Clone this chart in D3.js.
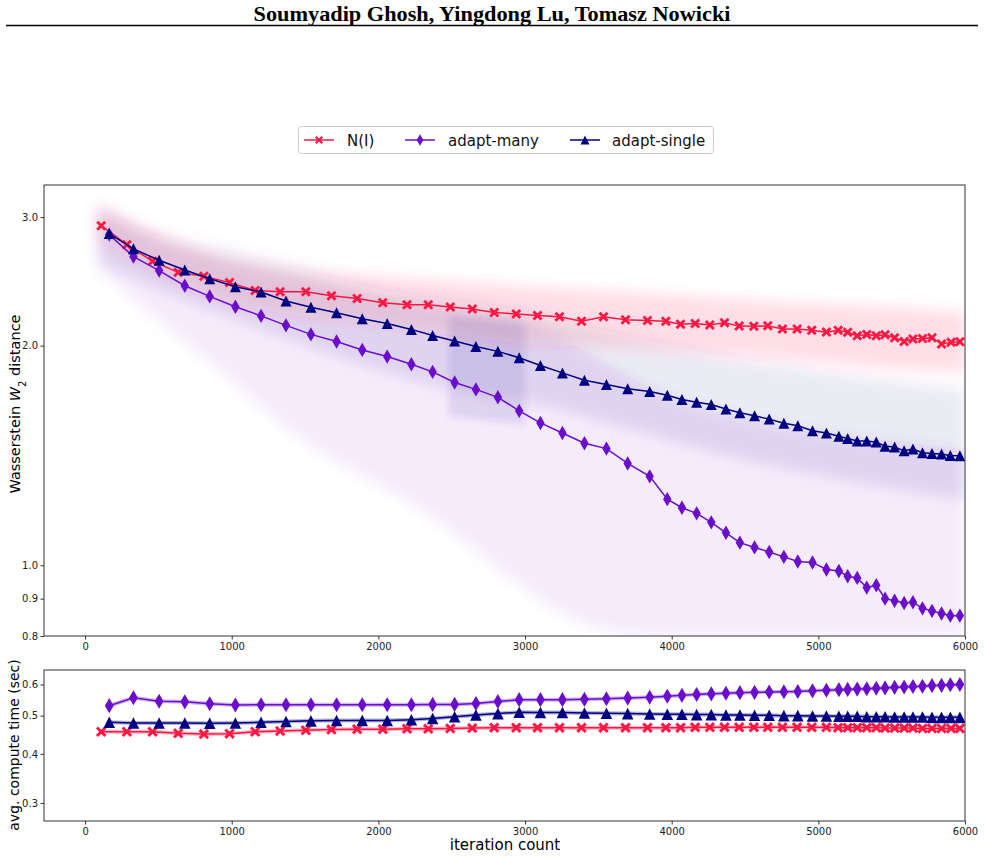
<!DOCTYPE html>
<html><head><meta charset="utf-8">
<script src="https://cdn.jsdelivr.net/npm/d3@7"></script>
<style>body{margin:0;background:#fff}text{font-family:"DejaVu Sans",sans-serif}</style>
</head><body>
<svg id="c" width="984" height="857"></svg>
<script>
// ---------------- data ----------------
const seriesNames = ["N(I)", "adapt-many", "adapt-single"];
const xTicks = [0, 1000, 2000, 3000, 4000, 5000, 6000];
const yTopTicks = [3.0, 2.0, 1.0, 0.9, 0.8];
const yBotTicks = [0.6, 0.5, 0.4, 0.3];

const iterN = [110, 285, 460, 635, 810, 985, 1160, 1330, 1505, 1680, 1855, 2030, 2195, 2340, 2490, 2640, 2790, 2940, 3085, 3235, 3385, 3535, 3685, 3835, 3960, 4060, 4160, 4260, 4360, 4460, 4560, 4655, 4755, 4855, 4955, 5055, 5135, 5200, 5265, 5330, 5395, 5455, 5520, 5585, 5645, 5710, 5775, 5840, 5905, 5965];
const iterAdapt = [165, 330, 505, 680, 850, 1025, 1200, 1370, 1540, 1715, 1890, 2060, 2225, 2370, 2520, 2665, 2815, 2960, 3105, 3255, 3405, 3555, 3700, 3850, 3970, 4070, 4170, 4270, 4370, 4465, 4565, 4665, 4765, 4860, 4960, 5055, 5140, 5200, 5265, 5330, 5395, 5455, 5520, 5585, 5645, 5710, 5775, 5840, 5900, 5965];

const w2N = [2.92, 2.75, 2.61, 2.52, 2.49, 2.44, 2.38, 2.37, 2.37, 2.34, 2.32, 2.29, 2.275, 2.275, 2.26, 2.245, 2.22, 2.21, 2.20, 2.19, 2.16, 2.19, 2.17, 2.165, 2.16, 2.14, 2.145, 2.135, 2.15, 2.127, 2.126, 2.129, 2.108, 2.108, 2.10, 2.087, 2.099, 2.086, 2.064, 2.072, 2.064, 2.07, 2.05, 2.026, 2.042, 2.045, 2.051, 2.01, 2.021, 2.024];
const w2Many = [2.839, 2.648, 2.534, 2.416, 2.336, 2.261, 2.197, 2.132, 2.072, 2.026, 1.973, 1.932, 1.886, 1.841, 1.780, 1.742, 1.699, 1.628, 1.567, 1.518, 1.470, 1.445, 1.379, 1.324, 1.232, 1.199, 1.178, 1.145, 1.108, 1.074, 1.058, 1.043, 1.027, 1.012, 1.009, 0.987, 0.982, 0.966, 0.961, 0.932, 0.939, 0.900, 0.894, 0.888, 0.890, 0.873, 0.866, 0.859, 0.853, 0.853];
const w2Single = [2.848, 2.714, 2.618, 2.539, 2.470, 2.408, 2.369, 2.302, 2.257, 2.218, 2.177, 2.145, 2.105, 2.065, 2.030, 1.995, 1.964, 1.925, 1.878, 1.835, 1.793, 1.769, 1.746, 1.731, 1.710, 1.687, 1.673, 1.661, 1.637, 1.618, 1.603, 1.586, 1.565, 1.553, 1.529, 1.518, 1.503, 1.492, 1.480, 1.480, 1.475, 1.456, 1.452, 1.435, 1.443, 1.426, 1.423, 1.421, 1.414, 1.413];

const timeN = [0.455, 0.455, 0.455, 0.451, 0.449, 0.450, 0.455, 0.457, 0.459, 0.461, 0.462, 0.462, 0.463, 0.463, 0.464, 0.465, 0.466, 0.466, 0.466, 0.466, 0.466, 0.466, 0.466, 0.466, 0.466, 0.466, 0.467, 0.467, 0.467, 0.467, 0.467, 0.467, 0.467, 0.467, 0.467, 0.467, 0.466, 0.466, 0.466, 0.466, 0.466, 0.465, 0.465, 0.465, 0.465, 0.464, 0.464, 0.464, 0.464, 0.464];
const timeMany = [0.530, 0.555, 0.544, 0.542, 0.536, 0.532, 0.533, 0.533, 0.533, 0.533, 0.533, 0.533, 0.533, 0.534, 0.534, 0.537, 0.543, 0.549, 0.549, 0.549, 0.550, 0.552, 0.554, 0.557, 0.560, 0.563, 0.566, 0.568, 0.570, 0.572, 0.573, 0.574, 0.575, 0.576, 0.578, 0.580, 0.582, 0.583, 0.584, 0.585, 0.587, 0.588, 0.590, 0.591, 0.593, 0.594, 0.596, 0.597, 0.599, 0.600];
const timeSingle = [0.481, 0.479, 0.479, 0.479, 0.478, 0.479, 0.481, 0.483, 0.485, 0.486, 0.486, 0.486, 0.488, 0.492, 0.497, 0.502, 0.506, 0.510, 0.509, 0.509, 0.508, 0.507, 0.506, 0.505, 0.504, 0.504, 0.503, 0.503, 0.502, 0.502, 0.501, 0.501, 0.500, 0.500, 0.499, 0.499, 0.498, 0.498, 0.498, 0.497, 0.497, 0.497, 0.496, 0.496, 0.496, 0.496, 0.495, 0.495, 0.495, 0.495];

// faint per-run spread (envelopes)
const cloudIter = [90, 500, 1000, 1500, 2000, 2500, 3000, 3500, 4000, 4500, 5000, 5500, 6000];
const cloudNHi = [3.12, 2.83, 2.62, 2.53, 2.49, 2.45, 2.41, 2.38, 2.35, 2.31, 2.28, 2.26, 2.22];
const cloudNLo = [2.80, 2.50, 2.27, 2.18, 2.14, 2.07, 2.00, 2.00, 1.97, 1.94, 1.90, 1.86, 1.84];
const cloudSingleHi = [3.08, 2.79, 2.70, 2.54, 2.38, 2.31, 2.24, 2.10, 2.01, 1.91, 1.85, 1.79, 1.74];
const cloudSingleLo = [2.60, 2.38, 2.18, 2.00, 1.85, 1.73, 1.68, 1.58, 1.48, 1.39, 1.33, 1.27, 1.23];
const cloudManyHi = [3.10, 2.79, 2.58, 2.46, 2.31, 2.24, 2.17, 1.92, 1.68, 1.58, 1.52, 1.48, 1.44];
const cloudManyLo = [2.55, 2.16, 1.80, 1.45, 1.30, 1.12, 0.92, 0.80, 0.80, 0.80, 0.80, 0.80, 0.80];
const denseIter = [2480, 3000];
const denseHi = [2.2, 2.15];
const denseLo = [1.6, 1.56];

// ---------------- drawing ----------------
const colors = ["#ff1744", "#6a0dcc", "#000080"];
const svg = d3.select("#c");

// title
svg.append("text").attr("x", 492).attr("y", 21).attr("text-anchor", "middle")
  .attr("textLength", 477).attr("lengthAdjust", "spacingAndGlyphs")
  .style("font-family", "'Liberation Serif', serif").style("font-weight", "bold").style("font-size", "21px")
  .text("Soumyadip Ghosh, Yingdong Lu, Tomasz Nowicki");
svg.append("line").attr("x1", 6).attr("x2", 978).attr("y1", 25.5).attr("y2", 25.5)
  .attr("stroke", "#000").attr("stroke-width", 1.3);

const L = 44, R = 965;
const x = d3.scaleLinear().domain([-280, 6000]).range([L, R]);
const yT = d3.scaleLog().domain([0.8, 3.32]).range([636, 185]);
const yB = d3.scaleLog().domain([0.27, 0.653]).range([821, 670]);

const defs = svg.append("defs");
defs.append("clipPath").attr("id", "clipT").append("rect").attr("x", L).attr("y", 185).attr("width", R - L).attr("height", 451);
defs.append("clipPath").attr("id", "clipB").append("rect").attr("x", L).attr("y", 670).attr("width", R - L).attr("height", 151);
defs.append("filter").attr("id", "blur").attr("x", "-10%").attr("y", "-20%").attr("width", "120%").attr("height", "140%")
  .append("feGaussianBlur").attr("stdDeviation", 7);
defs.append("filter").attr("id", "blur2").attr("x", "-10%").attr("y", "-20%").attr("width", "120%").attr("height", "140%")
  .append("feGaussianBlur").attr("stdDeviation", 3);

// marker shapes
function markerPath(kind, s) {
  if (kind === 0) { // filled X
    const a = s / 2, t = s * 0.2;
    const p = [[-a, -a + t], [-a + t, -a], [0, -t], [a - t, -a], [a, -a + t], [t, 0], [a, a - t], [a - t, a], [0, t], [-a + t, a], [-a, a - t], [-t, 0]];
    return "M" + p.map(q => q.join(",")).join("L") + "Z";
  } else if (kind === 1) { // thin diamond
    const h = s * 0.72, w = s * 0.42;
    return `M0,${-h}L${w},0L0,${h}L${-w},0Z`;
  } else { // triangle up
    const a = s * 0.55;
    return `M0,${-a}L${a},${a}L${-a},${a}Z`;
  }
}

const topData = [
  { it: iterN, v: w2N }, { it: iterAdapt, v: w2Many }, { it: iterAdapt, v: w2Single }
];
const botData = [
  { it: iterN, v: timeN }, { it: iterAdapt, v: timeMany }, { it: iterAdapt, v: timeSingle }
];

// clouds
const gT = svg.append("g").attr("clip-path", "url(#clipT)");
const gCloud = gT.append("g").attr("filter", "url(#blur)");
const area = d3.area().x(d => x(d[0])).y0(d => yT(d[1])).y1(d => yT(d[2])).curve(d3.curveBasis);
const clouds = [
  { lo: cloudManyLo, hi: cloudManyHi, c: colors[1], o: 0.075 },
  { lo: cloudSingleLo, hi: cloudSingleHi, c: "#2a2a90", o: 0.1 },
  { lo: cloudNLo, hi: cloudNHi, c: colors[0], o: 0.13 }
];
clouds.forEach(cl => {
  gCloud.append("path").datum(cloudIter.map((t, i) => [t, cl.lo[i], cl.hi[i]]))
    .attr("d", area).attr("fill", cl.c).attr("fill-opacity", cl.o);
});
gT.append("g").attr("filter", "url(#blur2)").append("path").datum(denseIter.map((t, i) => [t, denseLo[i], denseHi[i]]))
  .attr("d", d3.area().x(d => x(d[0])).y0(d => yT(d[1])).y1(d => yT(d[2])))
  .attr("fill", "#4a2aa0").attr("fill-opacity", 0.13);

// top lines
const lineT = d3.line().x(d => x(d[0])).y(d => yT(d[1]));
topData.forEach((s, k) => {
  const pts = s.it.map((t, i) => [t, s.v[i]]);
  gT.append("path").datum(pts).attr("d", lineT).attr("fill", "none").attr("stroke", colors[k]).attr("stroke-width", 1.5);
  gT.selectAll(null).data(pts).join("path")
    .attr("transform", d => `translate(${x(d[0])},${yT(d[1])})`)
    .attr("d", markerPath(k, 10)).attr("fill", colors[k]);
});

// bottom lines
const gB = svg.append("g").attr("clip-path", "url(#clipB)");
const lineB = d3.line().x(d => x(d[0])).y(d => yB(d[1]));
botData.forEach((s, k) => {
  const pts = s.it.map((t, i) => [t, s.v[i]]);
  gB.append("path").datum(pts).attr("d", lineB).attr("fill", "none").attr("stroke", colors[k]).attr("stroke-width", 4).attr("stroke-opacity", 0.3);
  gB.append("path").datum(pts).attr("d", lineB).attr("fill", "none").attr("stroke", colors[k]).attr("stroke-width", 1.5);
  gB.selectAll(null).data(pts).join("path")
    .attr("transform", d => `translate(${x(d[0])},${yB(d[1])})`)
    .attr("d", markerPath(k, 10.5)).attr("fill", colors[k]);
});

// axes
function styleAxis(g) {
  g.selectAll("text").style("font-size", "10px").attr("fill", "#222");
  g.selectAll("line").attr("stroke", "#333");
  g.select(".domain").remove();
}
svg.append("g").attr("transform", "translate(0,636)")
  .call(d3.axisBottom(x).tickValues(xTicks).tickSize(3.5).tickPadding(3.5).tickFormat(d3.format("d"))).call(styleAxis);
svg.append("g").attr("transform", "translate(0,821)")
  .call(d3.axisBottom(x).tickValues(xTicks).tickSize(3.5).tickPadding(3.5).tickFormat(d3.format("d"))).call(styleAxis);
svg.append("g").attr("transform", `translate(${L},0)`)
  .call(d3.axisLeft(yT).tickValues(yTopTicks).tickSize(3.5).tickPadding(2.5).tickFormat(d3.format(".1f"))).call(styleAxis);
svg.append("g").attr("transform", `translate(${L},0)`)
  .call(d3.axisLeft(yB).tickValues(yBotTicks).tickSize(3.5).tickPadding(2.5).tickFormat(d3.format(".1f"))).call(styleAxis);

// frames
[[185, 636], [670, 821]].forEach(([t, b]) => {
  svg.append("rect").attr("x", L).attr("y", t).attr("width", R - L).attr("height", b - t)
    .attr("fill", "none").attr("stroke", "#333").attr("stroke-width", 1);
});

// axis labels
const yl = svg.append("text").attr("transform", "translate(20,404) rotate(-90)").attr("text-anchor", "middle").style("font-size", "14.5px");
yl.append("tspan").text("Wasserstein ");
yl.append("tspan").style("font-style", "italic").text("W");
yl.append("tspan").attr("baseline-shift", "sub").style("font-size", "10px").text("2");
yl.append("tspan").text(" distance");
svg.append("text").attr("transform", "translate(19,745) rotate(-90)").attr("text-anchor", "middle").style("font-size", "14px")
  .text("avg. compute time (sec)");
svg.append("text").attr("x", 505).attr("y", 850).attr("text-anchor", "middle").style("font-size", "15px").text("iteration count");

// legend
const lg = svg.append("g");
lg.append("rect").attr("x", 298.5).attr("y", 126.5).attr("width", 415).attr("height", 27).attr("rx", 3)
  .attr("fill", "#fff").attr("stroke", "#ccc");
const legX = [304, 405, 570];
const legTextX = [347, 448, 612];
seriesNames.forEach((n, k) => {
  lg.append("line").attr("x1", legX[k]).attr("x2", legX[k] + 30).attr("y1", 140).attr("y2", 140).attr("stroke", colors[k]).attr("stroke-width", 1.5);
  lg.append("path").attr("transform", `translate(${legX[k] + 15},140)`).attr("d", markerPath(k, 8)).attr("fill", colors[k]);
  lg.append("text").attr("x", legTextX[k]).attr("y", 145.5).style("font-size", "15px").attr("fill", "#111").text(n);
});
</script>
</body></html>
